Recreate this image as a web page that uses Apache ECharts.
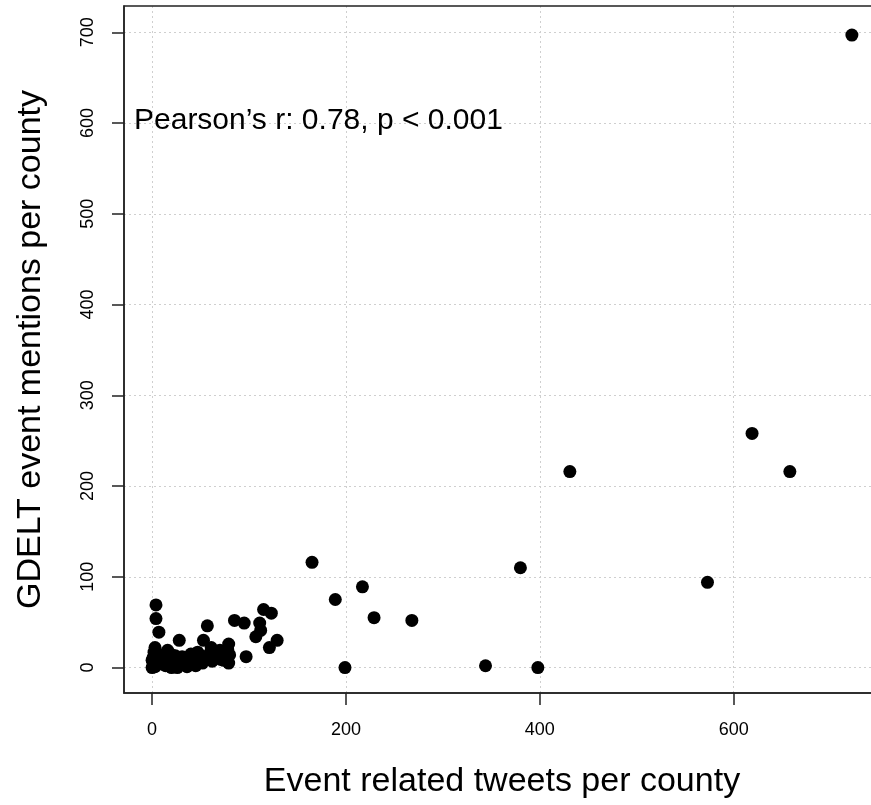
<!DOCTYPE html>
<html>
<head>
<meta charset="utf-8">
<script src="https://cdn.jsdelivr.net/npm/echarts@6/dist/echarts.min.js"></script>
<style>
  html, body { margin: 0; padding: 0; background: #fff; }
  #graph { width: 871px; height: 805px; }
</style>
</head>
<body>
<div id="graph"></div>
<script>
// tweets per county (x) and GDELT mentions per county (y)
var tweets = [
    0, 1, 2, 3, 0, 4, 2, 5, 6, 3, 4, 4, 7, 8, 9, 1,
    11, 12, 14, 15, 16, 18, 19, 20, 21, 23, 24, 26, 27, 28, 29,
    31, 33, 35, 36, 38, 40, 41, 43, 45, 47, 48,
    50, 52, 53, 55, 57, 57, 59, 61, 62, 64, 66, 68, 70, 71, 73, 74, 76, 78, 79, 79, 80,
    85, 95, 97, 107, 111, 112, 115, 121, 123, 129,
    165, 189, 199, 217, 229, 268, 344, 380, 398, 431, 573, 619, 658, 722
];
var mentions = [
    0, 2, 5, 1, 8, 12, 17, 3, 9, 22, 54, 69, 39, 14, 6, 11,
    4, 10, 2, 16, 19, 7, 15, 0, 11, 5, 13, 0, 8, 30, 3,
    12, 6, 8, 1, 10, 15, 4, 9, 2, 17, 7,
    13, 5, 30, 10, 46, 10, 15, 22, 7, 18, 11, 14, 19, 9, 16, 8, 12, 20, 26, 5, 14,
    52, 49, 12, 34, 49, 41, 64, 22, 60, 30,
    116, 75, 0, 89, 55, 52, 2, 110, 0, 216, 94, 258, 216, 697
];
var xTicks = [0, 200, 400, 600];
var yTicks = [0, 100, 200, 300, 400, 500, 600, 700];
var statText = 'Pearson\u2019s r: 0.78, p < 0.001';

var font = "'Liberation Sans', Arial, sans-serif";

var points = tweets.map(function (t, i) {
    return [t, mentions[i]];
});

var chart = echarts.init(document.getElementById('graph'));
var chartOption = {
    animation: false,
    backgroundColor: '#fff',
    title: {
        text: statText,
        left: 134,
        top: 106,
        padding: 0,
        textStyle: { fontFamily: font, fontSize: 30, fontWeight: 'normal', color: '#000' }
    },
    // the plot box runs a little past the right edge of the picture
    grid: {
        left: 124, top: 6, width: 756, bottom: 112,
        outerBoundsMode: 'none',
        containLabel: false,
        z: 5,
        show: true,
        borderColor: '#222',
        borderWidth: 1.5,
        backgroundColor: 'transparent'
    },
    xAxis: {
        type: 'value',
        min: -29,
        max: 751,
        minInterval: 200,
        maxInterval: 200,
        name: 'Event related tweets per county',
        nameLocation: 'middle',
        nameGap: 72,
        nameTextStyle: { fontFamily: font, fontSize: 34, color: '#000' },
        axisLine: { show: true, onZero: false, lineStyle: { color: '#222', width: 1.5 } },
        axisTick: {
            show: true, length: 12, inside: false, customValues: xTicks,
            lineStyle: { color: '#222', width: 1.5 }
        },
        axisLabel: {
            customValues: xTicks,
            margin: 28,
            fontFamily: font, fontSize: 18, color: '#000'
        },
        splitLine: { show: true, lineStyle: { color: '#cfcfcf', type: [2, 3], width: 1 } }
    },
    yAxis: {
        type: 'value',
        min: -28,
        max: 729,
        minInterval: 100,
        maxInterval: 100,
        name: 'GDELT event mentions per county',
        nameLocation: 'middle',
        nameGap: 76,
        nameTextStyle: { fontFamily: font, fontSize: 34, color: '#000' },
        axisLine: { show: true, onZero: false, lineStyle: { color: '#222', width: 1.5 } },
        axisTick: {
            show: true, length: 12, inside: false, customValues: yTicks,
            lineStyle: { color: '#222', width: 1.5 }
        },
        axisLabel: {
            customValues: yTicks,
            rotate: 90,
            margin: 27,
            fontFamily: font, fontSize: 18, color: '#000'
        },
        splitLine: { show: true, lineStyle: { color: '#cfcfcf', type: [2, 3], width: 1 } }
    },
    series: [{
        name: 'counties',
        type: 'scatter',
        symbol: 'circle',
        symbolSize: 13,
        itemStyle: { color: '#000', opacity: 1 },
        data: points
    }]
};
chart.setOption(chartOption);
</script>
</body>
</html>
